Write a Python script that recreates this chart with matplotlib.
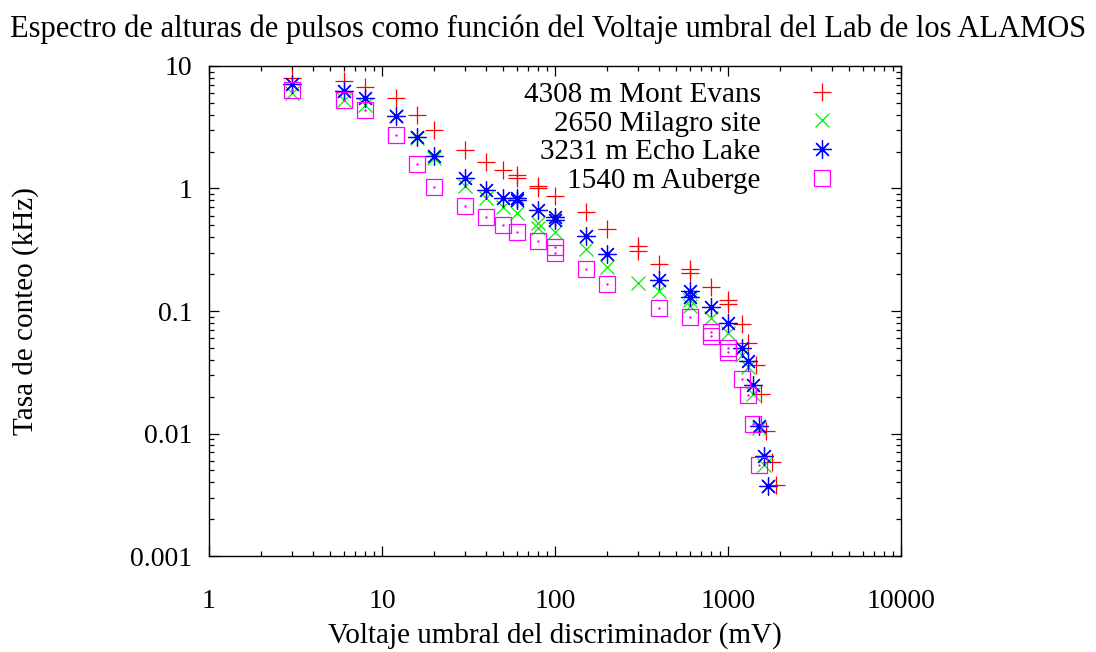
import matplotlib.pyplot as plt
from matplotlib.ticker import FuncFormatter, LogLocator

plt.rcParams['font.family'] = ['Liberation Serif', 'DejaVu Serif']
plt.rcParams['font.size'] = 20

# Espectro de alturas de pulsos - cuatro sitios
# umbral (mV) y tasa de conteo (kHz)
x_evans = [3, 6, 8, 12, 16, 20, 30, 40, 50, 60, 60, 80, 80, 100, 150, 200,
           300, 300, 400, 600, 600, 800, 1000, 1000, 1200, 1300, 1450, 1550,
           1650, 1800, 1900]
y_evans = [8.0, 7.6, 6.8, 5.5, 4.0, 3.0, 2.05, 1.65, 1.42, 1.3, 1.22, 1.04, 1.0,
           0.87, 0.64, 0.47, 0.34, 0.31, 0.24, 0.22, 0.205, 0.157, 0.123, 0.115,
           0.079, 0.055, 0.036, 0.021, 0.0105, 0.0058, 0.0038]

x_milagro = [3, 6, 8, 12, 16, 20, 30, 40, 50, 60, 80, 80, 100, 150, 200, 300,
             400, 600, 600, 800, 1000, 1200, 1300, 1400, 1500, 1600, 1700]
y_milagro = [6.0, 5.3, 4.8, 3.9, 2.6, 1.78, 1.05, 0.84, 0.70, 0.63, 0.52, 0.48,
             0.44, 0.32, 0.23, 0.17, 0.145, 0.122, 0.11, 0.088, 0.066, 0.044,
             0.035, 0.021, 0.011, 0.0055, 0.0037]

x_echo = [3, 6, 8, 12, 16, 20, 30, 40, 50, 60, 60, 80, 100, 100, 150, 200, 400,
          600, 600, 800, 1000, 1200, 1300, 1400, 1500, 1600, 1700]
y_echo = [7.1, 6.3, 5.5, 3.9, 2.65, 1.85, 1.22, 0.98, 0.83, 0.84, 0.80, 0.67,
          0.58, 0.55, 0.41, 0.29, 0.18, 0.145, 0.13, 0.107, 0.08, 0.05, 0.039,
          0.025, 0.0115, 0.0065, 0.0037]

x_auberge = [3, 6, 8, 12, 16, 20, 30, 40, 50, 60, 80, 100, 100, 150, 200, 400,
             600, 800, 800, 1000, 1000, 1200, 1300, 1400, 1500]
y_auberge = [6.4, 5.3, 4.35, 2.75, 1.58, 1.02, 0.72, 0.59, 0.50, 0.44, 0.37,
             0.33, 0.30, 0.22, 0.165, 0.105, 0.09, 0.067, 0.062, 0.050, 0.046,
             0.028, 0.0205, 0.012, 0.0055]

fig = plt.figure(figsize=(10.96, 6.52), dpi=100)
ax = fig.add_axes([0.1907, 0.1472, 0.6316, 0.7516])

ax.plot(x_evans, y_evans, ls='none', marker='+', ms=13, mew=0.9,
        color='#ff0000', label='4308 m Mont Evans')
ax.plot(x_milagro, y_milagro, ls='none', marker='x', ms=10, mew=0.9,
        color='#00ee00', label='2650 Milagro site')
ax.plot(x_echo, y_echo, ls='none', marker=(8, 2, 0), ms=13, mew=0.9,
        color='#0000ff', label='3231 m Echo Lake')
ax.plot(x_auberge, y_auberge, ls='none', marker='s', ms=12, mew=0.9,
        mfc='none', color='#ff00ff', label='1540 m Auberge')
ax.plot(x_auberge, y_auberge, ls='none', marker='.', ms=1.5, color='#ff00ff')

ax.set_xscale('log')
ax.set_yscale('log')
ax.set_xlim(1, 10000)
ax.set_ylim(0.001, 10)

fmt = FuncFormatter(lambda v, _: '%g' % v)
ax.xaxis.set_major_formatter(fmt)
ax.yaxis.set_major_formatter(fmt)
ax.xaxis.set_minor_locator(LogLocator(base=10, subs=range(2, 10)))
ax.yaxis.set_minor_locator(LogLocator(base=10, subs=range(2, 10)))
ax.tick_params(which='both', direction='in', top=True, right=True, width=0.9)
ax.tick_params(which='major', length=7)
ax.tick_params(which='minor', length=3.5)
ax.tick_params(axis='x', which='major', pad=24)
ax.tick_params(axis='y', which='major', pad=12)
for s in ax.spines.values():
    s.set_linewidth(1.0)

ax.set_xlabel('Voltaje umbral del discriminador (mV)', fontsize=21)
ax.set_ylabel('Tasa de conteo (kHz)', fontsize=21)
ax.xaxis.set_label_coords(0.5, -0.135)
ax.yaxis.set_label_coords(-0.245, 0.5)

fig.suptitle('Espectro de alturas de pulsos como función del Voltaje umbral del Lab de los ALAMOS',
             y=0.955, va='center', fontsize=22)

ax.legend(loc='upper right', bbox_to_anchor=(0.936, 1.01), frameon=False,
          markerfirst=False, handlelength=1.0, handletextpad=1.6,
          labelspacing=0.08, borderaxespad=0.3, fontsize=21)

fig.savefig('out.png', dpi=100)
